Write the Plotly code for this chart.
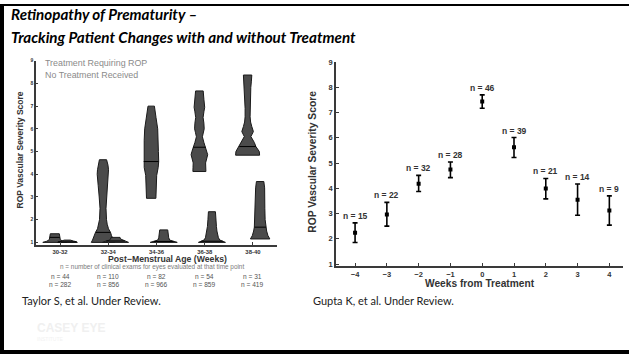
import plotly.graph_objects as go
import numpy as np

W, H = 629, 356
def px(x): return x / W
def py(y): return 1 - y / H

# ---------------- Left chart data (violins) ----------------
age_groups = ["30-32", "32-34", "34-36", "36-38", "38-40"]
n_treated = [44, 110, 82, 54, 31]
n_untreated = [282, 856, 966, 859, 419]

# score levels and relative density (half width)
treat_levels = [
    [1.0, 1.05, 1.12, 1.2, 1.3, 1.38],
    [1.0, 1.1, 1.2, 1.3, 1.44, 1.6, 1.8, 2.0, 2.5, 3.0, 3.5, 3.8, 4.0, 4.2, 4.4, 4.64],
    [2.94, 3.1, 3.36, 3.7, 3.95, 4.3, 4.56, 5.0, 5.5, 6.0, 6.5, 7.0],
    [4.12, 4.3, 4.5, 4.86, 5.0, 5.19, 5.4, 5.65, 5.85, 6.0, 6.25, 6.5, 6.75, 6.95, 7.3, 7.67],
    [4.84, 5.0, 5.22, 5.4, 5.66, 5.88, 6.1, 6.3, 6.53, 6.9, 7.25, 7.6, 7.82, 8.1, 8.37],
]
treat_density = [
    [12, 8, 5.5, 5, 5, 4.5],
    [11.7, 10.5, 9.7, 8.5, 7.5, 5.5, 4.2, 3.5, 3, 3.8, 4.8, 5.6, 5.8, 5.5, 5, 3.6],
    [4.7, 4.8, 4.8, 5.3, 5.5, 7, 7.5, 7.2, 7, 6.5, 4.8, 3.2],
    [6.5, 6.4, 6.2, 8.3, 7.5, 6.3, 4.5, 3, 4, 4.8, 4.5, 3.7, 4.5, 5.3, 4.5, 3.8],
    [12, 11.7, 8.3, 6.7, 3.3, 5.8, 4.2, 3, 2.5, 2.5, 2.5, 3, 3.2, 3.8, 4.2],
]
treat_median = [1.22, 1.44, 4.56, 5.19, 5.22]

untreat_levels = [
    [1.0, 1.03, 1.06, 1.1],
    [1.0, 1.05, 1.1, 1.15, 1.22],
    [1.0, 1.05, 1.1, 1.2, 1.3, 1.45, 1.55],
    [1.0, 1.05, 1.1, 1.2, 1.35, 1.5, 1.7, 2.0, 2.2, 2.35],
    [1.15, 1.3, 1.5, 1.67, 2.0, 2.5, 3.0, 3.4, 3.68],
]
untreat_density = [
    [10, 9, 6, 3],
    [13, 10, 6, 5, 4.5],
    [13.5, 9, 6, 5, 4.5, 4.2, 4],
    [13.5, 11, 8, 6.5, 5.5, 5, 4.5, 4, 4, 3.5],
    [9.7, 7.8, 6.5, 5.8, 5, 4.7, 4.7, 4.5, 3.7],
]
untreat_median = [1.02, 1.06, 1.04, 1.05, 1.67]

# ---------------- Right chart data ----------------
weeks = [-4, -3, -2, -1, 0, 1, 2, 3, 4]
score_mean = [2.24, 2.96, 4.18, 4.74, 7.44, 5.62, 3.99, 3.55, 3.12]
score_upper = [2.63, 3.44, 4.51, 5.04, 7.70, 6.01, 4.39, 4.17, 3.70]
score_lower = [1.85, 2.50, 3.87, 4.42, 7.17, 5.22, 3.58, 2.93, 2.54]
n_patients = [15, 22, 32, 28, 46, 39, 21, 14, 9]

y_ticks = [1, 2, 3, 4, 5, 6, 7, 8, 9]

# ---------------- styling ----------------
DENS_SCALE = 1 / 48.2      # density unit -> category axis units
T_OFFSET, U_OFFSET = -0.11, 0.15
FILL = "#4b4b4b"
EDGE = "#1a1a1a"
AX = "#3a3a3a"
SANS = "Liberation Sans"

fig = go.Figure()

def add_violin(center, levels, dens, med):
    xs_r = [center + d * DENS_SCALE for d in dens]
    xs_l = [center - d * DENS_SCALE for d in dens]
    xs = xs_r + xs_l[::-1] + [xs_r[0]]
    ys = levels + levels[::-1] + [levels[0]]
    fig.add_trace(go.Scatter(x=xs, y=ys, fill="toself", fillcolor=FILL,
                             mode="lines", line=dict(color=EDGE, width=1),
                             xaxis="x", yaxis="y", hoverinfo="skip"))
    w = float(np.interp(med, levels, dens)) * DENS_SCALE
    fig.add_trace(go.Scatter(x=[center - w, center + w], y=[med, med], mode="lines",
                             line=dict(color="#000000", width=1),
                             xaxis="x", yaxis="y", hoverinfo="skip"))

for i in range(len(age_groups)):
    add_violin(i + 1 + T_OFFSET, treat_levels[i], treat_density[i], treat_median[i])
    add_violin(i + 1 + U_OFFSET, untreat_levels[i], untreat_density[i], untreat_median[i])

# right chart
fig.add_trace(go.Scatter(
    x=weeks, y=score_mean, mode="markers",
    marker=dict(color="#000000", size=4, symbol="square"),
    error_y=dict(type="data", symmetric=False,
                 array=[u - m for u, m in zip(score_upper, score_mean)],
                 arrayminus=[m - l for l, m in zip(score_lower, score_mean)],
                 color="#000000", thickness=1.6, width=2.5),
    xaxis="x2", yaxis="y2", hoverinfo="skip"))

annotations = []
for wk, up, n in zip(weeks, score_upper, n_patients):
    annotations.append(dict(x=wk, y=up, xref="x2", yref="y2", text=f"n = {n}",
                            showarrow=False, yanchor="middle", yshift=7,
                            font=dict(family=SANS, size=8.5, color="#333333", weight="bold")))

def note(x, y, text, size, color="#000000", weight="normal", style="normal",
         family=SANS, xanchor="center", angle=0):
    annotations.append(dict(x=px(x), y=py(y), xref="paper", yref="paper", text=text,
                            showarrow=False, xanchor=xanchor, yanchor="middle",
                            textangle=angle,
                            font=dict(family=family, size=size, color=color,
                                      weight=weight, style=style)))

# slide title
note(9, 10.5, "Retinopathy of Prematurity –", 15.2, weight="bold", style="italic",
     family="Lato", xanchor="left")
note(9, 33.5, "Tracking Patient Changes with and without Treatment", 15.2, weight="bold",
     style="italic", family="Lato", xanchor="left")

# left chart texts
note(43, 60, "Treatment Requiring ROP", 8.9, color="#8a8a8a", xanchor="left")
note(43, 72.5, "No Treatment Received", 8.9, color="#8a8a8a", xanchor="left")
note(20, 149, "ROP Vascular Severity Score", 8.5, color="#333333", weight="bold", angle=-90)
note(167, 259.5, "Post−Menstrual Age (Weeks)", 8.7, color="#333333", weight="bold")
note(152, 267.8, "n = number of clinical exams for eyes evaluated at that time point", 6.4,
     color="#7a7a7a")
for i in range(len(age_groups)):
    annotations.append(dict(x=i + 1, y=py(276.8), xref="x", yref="paper",
                            text=f"n = {n_treated[i]}", showarrow=False, yanchor="middle",
                            font=dict(family=SANS, size=6.6, color="#555555")))
    annotations.append(dict(x=i + 1, y=py(285.8), xref="x", yref="paper",
                            text=f"n = {n_untreated[i]}", showarrow=False, yanchor="middle",
                            font=dict(family=SANS, size=6.6, color="#555555")))

# right chart texts
note(312.5, 161, "ROP Vascular Severity Score", 10.3, color="#333333", weight="bold", angle=-90)
note(480, 284, "Weeks from Treatment", 10.2, color="#333333", weight="bold")

# citations
note(20, 302, "Taylor S, et al. Under Review.", 11, color="#222222", family="Lato",
     xanchor="left")
note(311, 302, "Gupta K, et al. Under Review.", 11, color="#222222", family="Lato",
     xanchor="left")

# faint logo text
note(35, 330, "CASEY EYE", 12, color="#f0f0f0", weight="bold", xanchor="left")
note(35, 341, "INSTITUTE", 5, color="#f2f2f2", xanchor="left")

shapes = [
    dict(type="rect", xref="paper", yref="paper", x0=0, x1=px(4), y0=0, y1=1,
         fillcolor="#000000", line=dict(width=0)),
    dict(type="rect", xref="paper", yref="paper", x0=0, x1=1, y0=py(2), y1=1,
         fillcolor="#000000", line=dict(width=0)),
    dict(type="rect", xref="paper", yref="paper", x0=0, x1=1, y0=0, y1=py(352),
         fillcolor="#000000", line=dict(width=0)),
]

axis_common = dict(showgrid=False, zeroline=False, showline=True, linecolor=AX,
                   linewidth=1.5, ticks="inside", tickcolor=AX, tickwidth=1,
                   mirror=False)

fig.update_layout(
    width=W, height=H, margin=dict(l=0, r=0, t=0, b=0),
    paper_bgcolor="#ffffff", plot_bgcolor="rgba(0,0,0,0)", showlegend=False,
    xaxis=dict(domain=[px(36), px(277)], range=[0.5, 5.5], anchor="y",
               tickvals=[1, 2, 3, 4, 5], ticktext=age_groups, ticklen=3,
               tickfont=dict(family=SANS, size=5.9, color="#333333", weight="bold"),
               **axis_common),
    yaxis=dict(domain=[py(245), py(57.7)], range=[0.89, 9.0], anchor="x",
               tickvals=y_ticks, ticklen=2.5,
               tickfont=dict(family=SANS, size=5, color="#333333", weight="bold"),
               **axis_common),
    xaxis2=dict(domain=[px(336), px(622.7)], range=[-4.6, 4.42], anchor="y2",
                tickvals=weeks, ticklen=3,
                tickfont=dict(family=SANS, size=7.5, color="#333333", weight="bold"),
                **axis_common),
    yaxis2=dict(domain=[py(266.7), py(59)], range=[0.914, 9.0], anchor="x2",
                tickvals=y_ticks, ticklen=3,
                tickfont=dict(family=SANS, size=7.5, color="#333333", weight="bold"),
                **axis_common),
    annotations=annotations, shapes=shapes,
)

fig.write_html("out.html")
